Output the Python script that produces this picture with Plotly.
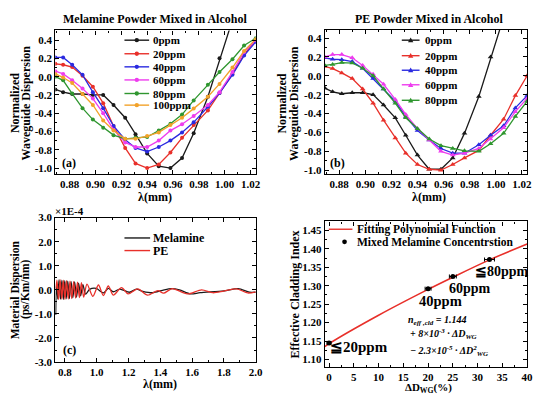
import plotly.graph_objects as go

W, H = 543, 402
# the page body keeps its 8px margin, so the figure starts at (8, 8)
OFF = 8
FW, FH = W - OFF, H - OFF
FONT = "Liberation Serif, Times New Roman, serif"

# ---- data -------------------------------------------------------------
wavelength = [0.869, 0.875, 0.882, 0.890, 0.898, 0.906, 0.914, 0.923, 0.931, 0.940,
              0.949, 0.958, 0.967, 0.976, 0.987, 0.996, 1.006, 1.015, 1.024]

# (a) melamine powder mixed in alcohol
mel_0ppm = [-0.14, -0.17, -0.19, -0.19, -0.20, -0.20, -0.31, -0.45, -0.63, -0.84,
            -0.98, -1.00, -0.89, -0.62, -0.22, 0.20, 0.62]
mel_20ppm = [0.14, 0.13, 0.105, 0.01, -0.11, -0.29, -0.54, -0.78, -0.95, -1.00,
             -0.96, -0.83, -0.67, -0.53, -0.37, -0.18, 0.03, 0.24, 0.40]
mel_40ppm = [0.21, 0.21, 0.13, 0.02, -0.17, -0.345, -0.54, -0.69, -0.78, -0.82,
             -0.77, -0.70, -0.61, -0.50, -0.33, -0.18, 0.02, 0.23, 0.38]
mel_60ppm = [0.06, 0.03, -0.04, -0.13, -0.24, -0.40, -0.58, -0.72, -0.77, -0.77,
             -0.70, -0.59, -0.52, -0.43, -0.31, -0.17, 0.05, 0.27, 0.40]
mel_80ppm = [0.0, -0.04, -0.185, -0.345, -0.47, -0.56, -0.64, -0.68, -0.67, -0.66,
             -0.59, -0.515, -0.415, -0.26, -0.09, 0.05, 0.19, 0.34, 0.42]
mel_100ppm = [0.03, -0.01, -0.07, -0.19, -0.31, -0.48, -0.59, -0.68, -0.68, -0.65,
              -0.61, -0.53, -0.45, -0.35, -0.22, -0.08, 0.10, 0.28, 0.41]

# (b) PE powder mixed in alcohol
pe_0ppm = [-0.13, -0.17, -0.19, -0.18, -0.18, -0.20, -0.31, -0.445, -0.63, -0.84,
           -0.99, -0.99, -0.87, -0.61, -0.22, 0.20, 0.62]
pe_20ppm = [0.10, 0.076, 0.03, -0.03, -0.14, -0.29, -0.47, -0.66, -0.82, -0.94,
            -0.99, -1.00, -0.94, -0.87, -0.79, -0.63, -0.46, -0.21, 0.0]
pe_40ppm = [0.19, 0.175, 0.17, 0.15, 0.08, -0.03, -0.14, -0.27, -0.43, -0.58,
            -0.68, -0.77, -0.82, -0.82, -0.73, -0.63, -0.53, -0.34, -0.21]
pe_60ppm = [0.20, 0.225, 0.225, 0.19, 0.11, 0.015, -0.09, -0.25, -0.41, -0.56,
            -0.68, -0.80, -0.84, -0.82, -0.77, -0.67, -0.55, -0.38, -0.24]
pe_80ppm = [0.11, 0.12, 0.14, 0.135, 0.08, 0.0, -0.14, -0.29, -0.445, -0.56,
            -0.67, -0.74, -0.77, -0.795, -0.80, -0.72, -0.61, -0.43, -0.27]

# (c) material dispersion (x1E-4 ps/Km/nm)
melamine_x = [0.742, 0.747, 0.755, 0.763, 0.772, 0.781, 0.790, 0.799, 0.808, 0.818,
              0.828, 0.839, 0.850, 0.861, 0.873, 0.886, 0.899, 0.913, 0.930, 0.955,
              0.997, 1.042, 1.073, 1.104, 1.145, 1.207, 1.249, 1.290, 1.352, 1.414,
              1.470, 1.520, 1.590, 1.650, 1.800, 1.890, 1.960, 2.000]
melamine_md = [-1.05, 0.30, -0.38, 0.42, -0.38, 0.40, -0.40, 0.38, -0.37, 0.36,
               -0.36, 0.34, -0.33, 0.33, -0.30, 0.28, -0.25, 0.22, -0.18, 0.02,
               0.06, -0.13, 0.06, -0.08, 0.03, -0.10, 0.03, -0.06, -0.12, -0.02,
               0.05, 0.0, -0.17, -0.12, -0.04, 0.05, -0.10, -0.10]
pe_x = [0.744, 0.750, 0.760, 0.770, 0.780, 0.790, 0.800, 0.810, 0.821, 0.832,
        0.843, 0.855, 0.867, 0.879, 0.891, 0.904, 0.918, 0.939, 0.976, 1.011,
        1.042, 1.073, 1.104, 1.156, 1.197, 1.258, 1.320, 1.385, 1.420, 1.475,
        1.570, 1.660, 1.730, 1.800, 1.880, 1.950, 2.000]
pe_md = [0.05, 0.40, -0.40, 0.42, -0.38, 0.40, -0.40, 0.38, -0.38, 0.36,
         -0.36, 0.34, -0.34, 0.32, -0.32, 0.30, -0.30, 0.24, -0.27, 0.20,
         -0.24, 0.16, -0.22, 0.09, -0.17, 0.04, -0.22, -0.03, -0.14, 0.05,
         -0.17, 0.0, -0.12, -0.05, 0.04, -0.13, -0.08]

# (d) effective cladding index
fit_dwg = [-0.86, 0, 10, 20, 25, 32.4, 40]
fit_index = [1.135, 1.143, 1.220, 1.290, 1.323, 1.370, 1.413]
meas_dwg = [0, 20, 25, 32.4]
meas_index = [1.145, 1.292, 1.325, 1.371]
meas_err = [0.4, 0.6, 0.7, 1.0]

mel_labels = ['0ppm', '20ppm', '40ppm', '60ppm', '80ppm', '100ppm']
pe_labels = ['0ppm', '20ppm', '40ppm', '60ppm', '80ppm']
colors = ['#1a1a1a', '#e8302a', '#2a2ae0', '#ee3cee', '#2f962f', '#f2a22a']

x_ticks_ab = [0.88, 0.90, 0.92, 0.94, 0.96, 0.98, 1.00, 1.02]
x_text_ab = ['0.88', '0.90', '0.92', '0.94', '0.96', '0.98', '1.00', '1.02']
y_ticks_ab = [0.4, 0.2, 0.0, -0.2, -0.4, -0.6, -0.8, -1.0]
y_text_ab = ['0.4', '0.2', '0.0', '-0.2', '-0.4', '-0.6', '-0.8', '-1.0']
x_ticks_c = [0.8, 1.0, 1.2, 1.4, 1.6, 1.8, 2.0]
x_text_c = ['0.8', '1.0', '1.2', '1.4', '1.6', '1.8', '2.0']
y_ticks_c = [3, 2, 1, 0, -1, -2, -3]
y_text_c = ['3.0', '2.0', '1.0', '0.0', '-1.0', '-2.0', '-3.0']
x_ticks_d = [0, 5, 10, 15, 20, 25, 30, 35, 40]
y_ticks_d = [1.10, 1.15, 1.20, 1.25, 1.30, 1.35, 1.40, 1.45]


def px(x):
    return (x - OFF) / FW


def py(y):
    return 1 - (y - OFF) / FH


fig = go.Figure()

mel_series = [mel_0ppm, mel_20ppm, mel_40ppm, mel_60ppm, mel_80ppm, mel_100ppm]
for ys, c in zip(mel_series, colors):
    fig.add_trace(go.Scatter(x=wavelength[:len(ys)], y=ys, mode='lines+markers',
                             line=dict(color=c, width=1.3),
                             marker=dict(color=c, size=4, symbol='circle'),
                             xaxis='x', yaxis='y', showlegend=False))

pe_series = [pe_0ppm, pe_20ppm, pe_40ppm, pe_60ppm, pe_80ppm]
for ys, c in zip(pe_series, colors):
    fig.add_trace(go.Scatter(x=wavelength[:len(ys)], y=ys, mode='lines+markers',
                             line=dict(color=c, width=1.3),
                             marker=dict(color=c, size=5, symbol='triangle-up'),
                             xaxis='x2', yaxis='y2', showlegend=False))

fig.add_trace(go.Scatter(x=melamine_x, y=melamine_md, mode='lines',
                         line=dict(color='#1a1a1a', width=1.3, shape='spline', smoothing=0.8),
                         xaxis='x3', yaxis='y3', showlegend=False))
fig.add_trace(go.Scatter(x=pe_x, y=pe_md, mode='lines',
                         line=dict(color='#e8302a', width=1.3, shape='spline', smoothing=0.8),
                         xaxis='x3', yaxis='y3', showlegend=False))

fig.add_trace(go.Scatter(x=fit_dwg, y=fit_index, mode='lines',
                         line=dict(color='#e8302a', width=1.6, shape='spline'),
                         xaxis='x4', yaxis='y4', showlegend=False))
fig.add_trace(go.Scatter(x=meas_dwg, y=meas_index, mode='markers',
                         marker=dict(color='black', size=5),
                         error_x=dict(type='data', array=meas_err, color='black',
                                      thickness=1, width=2),
                         xaxis='x4', yaxis='y4', showlegend=False))

tickfont = dict(family=FONT, size=11, color='black', weight='bold')


def axis(dom, rng, tv=None, tt=None, minor=None, anchor=None):
    d = dict(domain=dom, range=rng, showline=True, mirror='ticks', linecolor='black',
             linewidth=1.2, ticks='inside', ticklen=4, tickwidth=1, tickcolor='black',
             showgrid=False, zeroline=False, tickfont=tickfont, anchor=anchor)
    if tv is not None:
        d['tickvals'] = tv
        d['ticktext'] = tt
    if minor is not None:
        d['minor'] = dict(ticks='inside', ticklen=2, tickcolor='black', dtick=minor,
                          showgrid=False)
    return d


xa = [px(56), px(259)]
xb = [px(329), px(534)]
ya_top = [py(173), py(25)]
yb_top = [py(173), py(24)]
yc = [py(367), py(218)]
yd = [py(372), py(222)]

fig.update_layout(
    width=FW, height=FH, margin=dict(l=0, r=0, t=0, b=0),
    paper_bgcolor='white', plot_bgcolor='white',
    xaxis=axis(xa, [0.869, 1.024], x_ticks_ab, x_text_ab, 0.01, 'y'),
    yaxis=axis(ya_top, [-1.065, 0.505], y_ticks_ab, y_text_ab, 0.1, 'x'),
    xaxis2=axis(xb, [0.869, 1.024], x_ticks_ab, x_text_ab, 0.01, 'y2'),
    yaxis2=axis(yb_top, [-1.04, 0.49], y_ticks_ab, y_text_ab, 0.1, 'x2'),
    xaxis3=axis(xa, [0.74, 2.0], x_ticks_c, x_text_c, 0.1, 'y3'),
    yaxis3=axis(yc, [-3, 3], y_ticks_c, y_text_c, 0.5, 'x3'),
    xaxis4=axis(xb, [-0.86, 40], x_ticks_d, [str(v) for v in x_ticks_d], 2.5, 'y4'),
    yaxis4=axis(yd, [1.08, 1.474], y_ticks_d, ['%.2f' % v for v in y_ticks_d], 0.025, 'x4'),
)

annotations = []
shapes = []


def text(x, y, s, size=12, angle=0, xanchor='center', yanchor='middle', italic=False):
    annotations.append(dict(x=px(x), y=py(y), xref='paper', yref='paper', text=s,
                            showarrow=False, textangle=angle, xanchor=xanchor,
                            yanchor=yanchor,
                            font=dict(family=FONT, size=size, color='black', weight='bold',
                                      style='italic' if italic else 'normal')))


text(157, 13, 'Melamine Powder Mixed in Alcohol')
text(435, 13, 'PE Powder Mixed in Alcohol')
text(15, 100, 'Normalized', angle=-90)
text(26.5, 100, 'Waveguide Dispersion', angle=-90)
text(286, 100, 'Normalized', angle=-90)
text(297.5, 100, 'Waveguide Dispersion', angle=-90)
text(15, 292, 'Material Dispersion', size=11.5, angle=-90)
text(26, 292, '(ps/Km/nm)', size=11.5, angle=-90)
text(299, 297, 'Effective Cladding Index', angle=-90)
text(157, 197, 'λ(mm)')
text(435, 197, 'λ(mm)')
text(162, 390, 'λ(mm)')
text(434, 394, 'ΔD<sub>WG</sub>(%)', size=11)
text(70, 211, '×1E-4', size=11)
text(70, 162, '(a)')
text(342, 162, '(b)')
text(70, 355, '(c)')
text(364, 351, '≦20ppm', size=15)
text(446, 304, '40ppm', size=14.5)
text(476, 291.5, '60ppm', size=14)
text(509, 274, '≦80ppm', size=14)
text(411, 324, 'n<sub>eff ,cld</sub> = 1.144', size=10, xanchor='left', italic=True)
text(413, 338, '+ 8×10<sup>-3</sup> · ΔD<sub>WG</sub>', size=10, xanchor='left', italic=True)
text(413, 356, '− 2.3×10<sup>-5</sup> · ΔD<sup>2</sup><sub>WG</sub>', size=10, xanchor='left',
     italic=True)


def legend_row(x0, x1, y, color, label, tx, marker=None, r=2.2, size=12):
    if x1 > x0:
        shapes.append(dict(type='line', xref='paper', yref='paper', x0=px(x0), x1=px(x1),
                           y0=py(y), y1=py(y), line=dict(color=color, width=1.4)))
    cx = (x0 + x1) / 2 if marker != 'dot' else x0 + 16
    if marker in ('circle', 'dot'):
        shapes.append(dict(type='circle', xref='paper', yref='paper',
                           x0=px(cx - r), x1=px(cx + r), y0=py(y + r), y1=py(y - r),
                           fillcolor=color, line=dict(color=color, width=0)))
    elif marker == 'triangle':
        path = 'M %f,%f L %f,%f L %f,%f Z' % (px(cx - r - 0.5), py(y + r), px(cx + r + 0.5),
                                              py(y + r), px(cx), py(y - r - 0.5))
        shapes.append(dict(type='path', xref='paper', yref='paper', path=path,
                           fillcolor=color, line=dict(color=color, width=0)))
    text(tx, y, label, size=size, xanchor='left')


for lab, c, y in zip(mel_labels, colors, [35, 49, 62.5, 76, 90, 102]):
    legend_row(126, 151, y, c, lab, 153, 'circle', size=11)
for lab, c, y in zip(pe_labels, colors, [35, 51, 66, 81, 97]):
    legend_row(407, 425, y, c, lab, 428, 'triangle', size=11)
legend_row(126, 152, 239, '#1a1a1a', 'Melamine', 153)
legend_row(126, 152, 252, '#e8302a', 'PE', 153)
legend_row(333, 357, 230, '#e8302a', 'Fitting Polynomial Function', 360, size=11.5)
legend_row(333, 333, 243, 'black', 'Mixed Melamine Concentrstion', 360, 'dot', r=2.4,
           size=11.5)

fig.update_layout(annotations=annotations, shapes=shapes)
fig.write_html("out.html")
